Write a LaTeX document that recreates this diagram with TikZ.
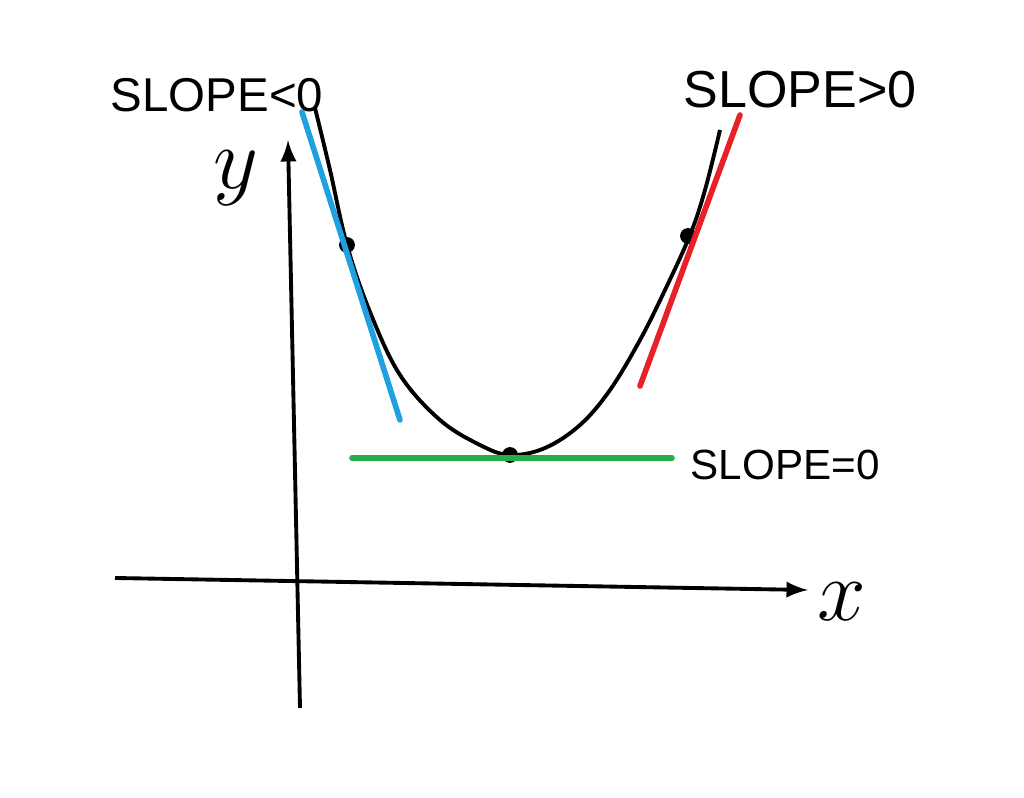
\documentclass[tikz,border=0pt]{standalone}
\usepackage{fontspec}
\setmainfont{Liberation Sans}
\usetikzlibrary{positioning,calc}

\definecolor{tanblue}{RGB}{30,160,225}
\definecolor{tanred}{RGB}{232,32,40}
\definecolor{tangreen}{RGB}{40,172,72}

\tikzset{
  axis/.style={line width=1.1pt,-latex},
  tangent/.style={line width=1.6pt,line cap=round},
  touch/.style={circle,fill=black,inner sep=0pt,minimum size=4.5pt},
  slopelabel/.style={inner sep=0pt}
}

\begin{document}
\begin{tikzpicture}[x=0.01cm,y=-0.01cm]
\useasboundingbox (0,0) rectangle (1024,798);

% Axes
\coordinate (yBot) at (300,708);
\coordinate (yTop) at (288,140);
\coordinate (xLeft) at (115,578);
\coordinate (xRight) at (808,590);
\draw[axis] (yBot)--(yTop);
\draw[axis] (xLeft)--(xRight);
\node (ylab) at (236,178) {\fontsize{24}{24}\selectfont$y$};
\node (xlab) at (842,602) {\fontsize{24}{24}\selectfont$x$};

% Curve
\draw[line width=1.1pt] plot[smooth,tension=0.6] coordinates {
  (315,108) (330,170) (347,245) (370,312) (400,375) (440,420)
  (480,445) (510,455) (545,448) (580,425) (610,390) (640,340)
  (665,290) (690,235) (705,190) (720,130)};

% Touching points
\node[touch] (ptL) at (347,245) {};
\node[touch] (ptMin) at (510,455) {};
\node[touch] (ptR) at (688,236) {};

% Tangents
\coordinate (blueA) at (302,112);
\coordinate (blueB) at (400,420);
\coordinate (redA) at (740,115);
\coordinate (redB) at (640,386);
\coordinate (greenA) at (352,458);
\coordinate (greenB) at (672,458);
\draw[tangent,tanblue] (blueA)--(blueB);
\draw[tangent,tanred] (redA)--(redB);
\draw[tangent,tangreen] (greenA)--(greenB);

% Labels
\node[slopelabel,anchor=base west,font=\fontsize{13.5}{13.5}\selectfont] (negLab) at (110,112) {SLOPE<0};
\node[slopelabel,anchor=base west,font=\fontsize{14.8}{14.8}\selectfont] (posLab) at (683,108) {SLOPE>0};
\node[slopelabel,anchor=base west,font=\fontsize{12}{12}\selectfont] (zeroLab) at (690,480) {SLOPE=0};

\end{tikzpicture}
\end{document}
